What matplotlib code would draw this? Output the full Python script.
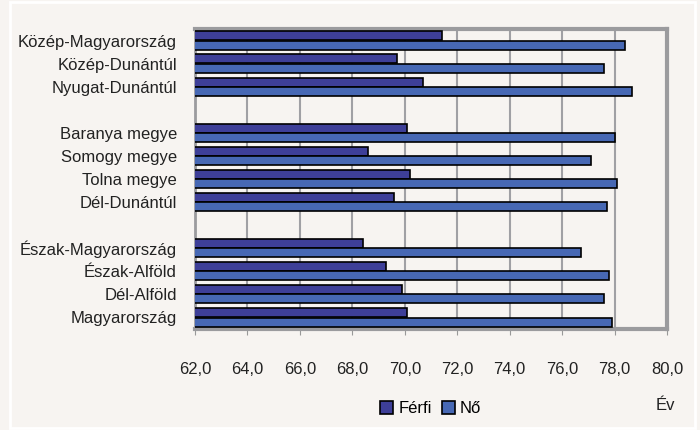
import matplotlib.pyplot as plt
import numpy as np
from matplotlib.patches import Rectangle

# adatok (felülről lefelé), üres sorok a csoportok között
regions = ['Közép-Magyarország', 'Közép-Dunántúl', 'Nyugat-Dunántúl', '',
           'Baranya megye', 'Somogy megye', 'Tolna megye', 'Dél-Dunántúl', '',
           'Észak-Magyarország', 'Észak-Alföld', 'Dél-Alföld', 'Magyarország']
ferfi = [71.4, 69.7, 70.7, np.nan,
         70.1, 68.6, 70.2, 69.6, np.nan,
         68.4, 69.3, 69.9, 70.1]
no = [78.4, 77.6, 78.65, np.nan,
      78.0, 77.1, 78.1, 77.7, np.nan,
      76.7, 77.8, 77.6, 77.9]
xticks = np.arange(62, 81, 2)

plt.rcParams['font.family'] = ['Liberation Sans', 'DejaVu Sans']

bg = '#F7F4F1'
fig = plt.figure(figsize=(7, 4.3), dpi=100, facecolor=bg)
ax = fig.add_axes([0.2786, 0.2349, 0.6744, 0.6977])
ax.set_facecolor(bg)

# keret a kép szélén
fig.patches.append(Rectangle((0.014, 0.005), 0.979, 0.99, transform=fig.transFigure,
                             fill=False, edgecolor='white', lw=2))

n = len(regions)
y = np.arange(n)
h = 0.39
b1 = ax.barh(y - h / 2 - 0.005, ferfi, height=h, left=0, color='#3E3F98',
             edgecolor='black', lw=1.2, label='Férfi', zorder=3)
b2 = ax.barh(y + h / 2 + 0.005, no, height=h, left=0, color='#4768B4',
             edgecolor='black', lw=1.2, label='Nő', zorder=3)

ax.set_xlim(62, 80)
ax.set_ylim(n - 0.5, -0.5)
ax.set_xticks(xticks)
ax.set_xticklabels([('%.1f' % v).replace('.', ',') for v in xticks], fontsize=12, color='#222222')
ax.set_yticks(y)
ax.set_yticklabels(regions, fontsize=12, color='#222222')
ax.tick_params(axis='y', length=0, pad=13)
ax.tick_params(axis='x', length=4, color='#999999', pad=20)
ax.grid(axis='x', color='#A0A0A4', lw=1.5, zorder=1)

for s in ['top', 'right', 'bottom']:
    ax.spines[s].set_color('#9B9B9E')
    ax.spines[s].set_linewidth(3)
ax.spines['left'].set_color('#9B9B9E')
ax.spines['left'].set_linewidth(2)

fig.legend(handles=[b1, b2], loc='center', bbox_to_anchor=(0.615, 0.05), ncol=2,
           frameon=False, fontsize=12, handlelength=0.8, handleheight=0.8,
           handletextpad=0.3, columnspacing=0.6)
fig.text(0.95, 0.058, 'Év', fontsize=12, ha='center', va='center', color='#222222')

plt.savefig('out.png', dpi=100, facecolor=bg)
